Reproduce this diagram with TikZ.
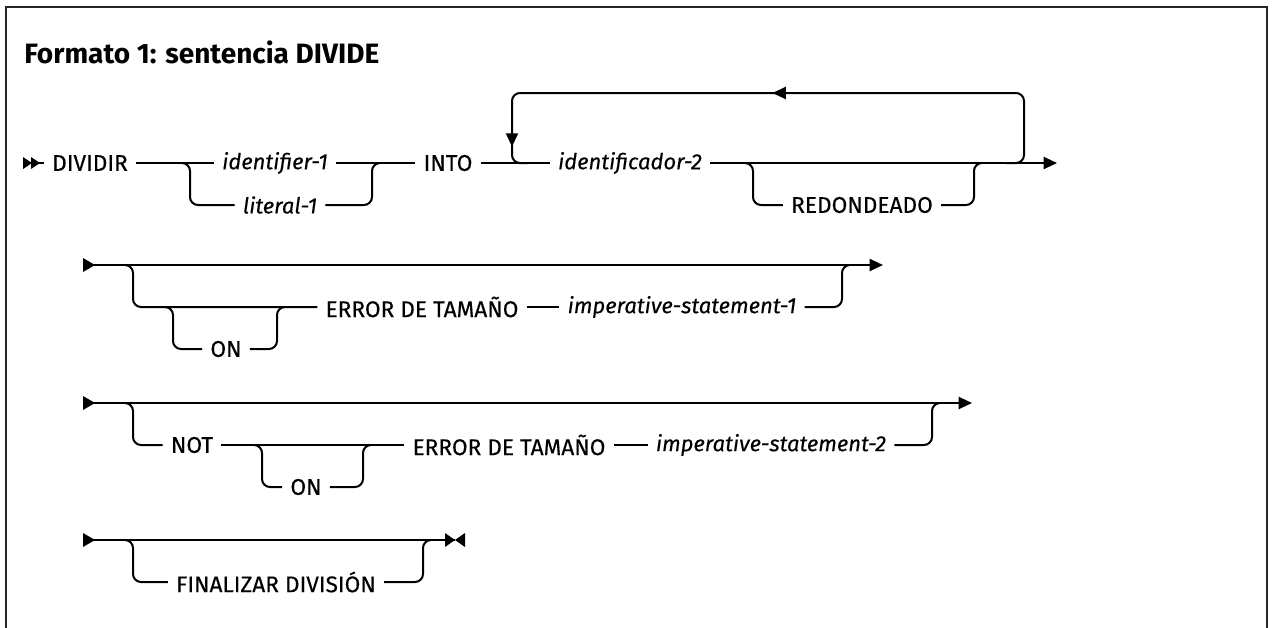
\documentclass[tikz,border=0pt]{standalone}
\usepackage{fontspec}
\setmainfont{Fira Sans}
\newfontfamily\railfont[FakeBold=0.3]{Fira Sans}
\usetikzlibrary{arrows.meta, decorations.markings}

\tikzset{
  rail/.style={line width=1.5pt, rounded corners=6pt},
  tok/.style={inner xsep=6pt, inner ysep=2pt, font=\railfont\fontsize{17}{20}\selectfont},
  arg/.style={tok, font=\railfont\fontsize{16.5}{20}\selectfont\itshape},
  endarrow/.style={-{Triangle[length=10pt, width=9pt]}},
  flowmark/.style={postaction={decorate, decoration={markings,
      mark=at position #1 with {\arrow{Triangle[length=10pt, width=9pt]}}}}},
}

% single start triangle of a continued line
\newcommand{\railhead}[1]{\fill (#1) ++(0,-7) -- ++(12,7) -- ++(-12,7) -- cycle;}

\begin{document}
\begin{tikzpicture}[x=0.75pt, y=-0.75pt]
    \useasboundingbox (0,0) rectangle (1274,628);

    % Frame, open at the bottom
    \draw[line width=1.5pt, black!85] (6,640) |- (1267,7) -- (1267,640);

    \node[font=\bfseries\fontsize{21}{24}\selectfont, anchor=base west, inner sep=0pt] (title) at (24,63) {Formato 1: sentencia DIVIDE};

    % Line 1: DIVIDIR ... INTO ... REDONDEADO
    \coordinate (s1) at (23,163);
    \coordinate (e1) at (1057,163);
    \node[tok] (dividir) at (90,163) {DIVIDIR};
    \node[arg] (id1) at (275,163) {identifier-1};
    \node[arg] (lit1) at (280,205) {literal-1};
    \node[tok] (into) at (448,163) {INTO};
    \node[arg] (id2) at (630,163) {identificador-2};
    \node[tok] (redond) at (862,205) {REDONDEADO};

    \coordinate (ch1l) at (190,163);
    \coordinate (ch1r) at (372,163);
    \coordinate (rd1l) at (753,163);
    \coordinate (rd1r) at (974,163);
    \coordinate (lpL) at (512,163);
    \coordinate (lpLt) at (512,93);
    \coordinate (lpRt) at (1024,93);
    \coordinate (lpR) at (1024,163);

    \draw[rail] (s1) -- (dividir);
    \draw[rail] (dividir) -- (id1);
    \draw[rail] (id1) -- (into);
    \draw[rail] ([xshift=-6pt]ch1l) -- (ch1l) |- (lit1);
    \draw[rail] (lit1) -| (ch1r) -- ++(6pt,0);
    \draw[rail] (into) -- (id2);
    \draw[rail, endarrow] (id2) -- (e1);
    \draw[rail] ([xshift=-6pt]rd1l) -- (rd1l) |- (redond);
    \draw[rail] (redond) -| (rd1r) -- ++(6pt,0);
    % repeat loop back over identificador-2
    \draw[rail, flowmark=250pt, flowmark=483pt]
        ([xshift=-14pt]lpR) -- (lpR) -- (lpRt) -- (lpLt) -- (lpL) -- ([xshift=12pt]lpL);
    \fill (s1) ++(0,-6) -- ++(9,6) -- ++(-9,6) -- cycle;
    \fill (s1) ++(8,-6) -- ++(9,6) -- ++(-9,6) -- cycle;

    % Line 2: ON ERROR DE TAMAÑO
    \coordinate (s2) at (83,265);
    \coordinate (e2) at (883,265);
    \node[tok] (err1) at (422,307) {ERROR DE TAMAÑO};
    \node[arg] (imp1) at (682,307) {imperative-statement-1};
    \node[tok] (on1) at (226,349) {ON};
    \coordinate (b2l) at (133,265);
    \coordinate (b2r) at (842,265);
    \coordinate (on1l) at (173,307);
    \coordinate (on1r) at (277,307);

    \draw[rail, endarrow] (s2) -- (e2);
    \draw[rail] ([xshift=-6pt]b2l) -- (b2l) |- (err1);
    \draw[rail] ([xshift=-6pt]on1l) -- (on1l) |- (on1);
    \draw[rail] (on1) -| (on1r) -- ++(6pt,0);
    \draw[rail] (err1) -- (imp1);
    \draw[rail] (imp1) -| (b2r) -- ++(6pt,0);
    \railhead{s2}

    % Line 3: NOT ON ERROR DE TAMAÑO
    \coordinate (s3) at (83,403);
    \coordinate (e3) at (972,403);
    \node[tok] (not) at (192,445) {NOT};
    \node[tok] (err2) at (509,445) {ERROR DE TAMAÑO};
    \node[arg] (imp2) at (771,445) {imperative-statement-2};
    \node[tok] (on2) at (306,487) {ON};
    \coordinate (b3l) at (133,403);
    \coordinate (b3r) at (932,403);
    \coordinate (on2l) at (262,445);
    \coordinate (on2r) at (363,445);

    \draw[rail, endarrow] (s3) -- (e3);
    \draw[rail] ([xshift=-6pt]b3l) -- (b3l) |- (not);
    \draw[rail] (not) -- (err2);
    \draw[rail] ([xshift=-6pt]on2l) -- (on2l) |- (on2);
    \draw[rail] (on2) -| (on2r) -- ++(6pt,0);
    \draw[rail] (err2) -- (imp2);
    \draw[rail] (imp2) -| (b3r) -- ++(6pt,0);
    \railhead{s3}

    % Line 4: END-DIVIDE
    \coordinate (s4) at (83,540);
    \coordinate (e4) at (455,540);
    \node[tok] (fin) at (276,582) {FINALIZAR DIVISIÓN};
    \coordinate (b4l) at (133,540);
    \coordinate (b4r) at (423,540);

    \draw[rail] (s4) -- (e4);
    \draw[rail] ([xshift=-6pt]b4l) -- (b4l) |- (fin);
    \draw[rail] (fin) -| (b4r) -- ++(6pt,0);
    \railhead{s4}
    \fill (e4) ++(-10,-7) -- ++(10,7) -- ++(-10,7) -- cycle;
    \fill (e4) ++(10,-7) -- ++(-10,7) -- ++(10,7) -- cycle;
\end{tikzpicture}
\end{document}
